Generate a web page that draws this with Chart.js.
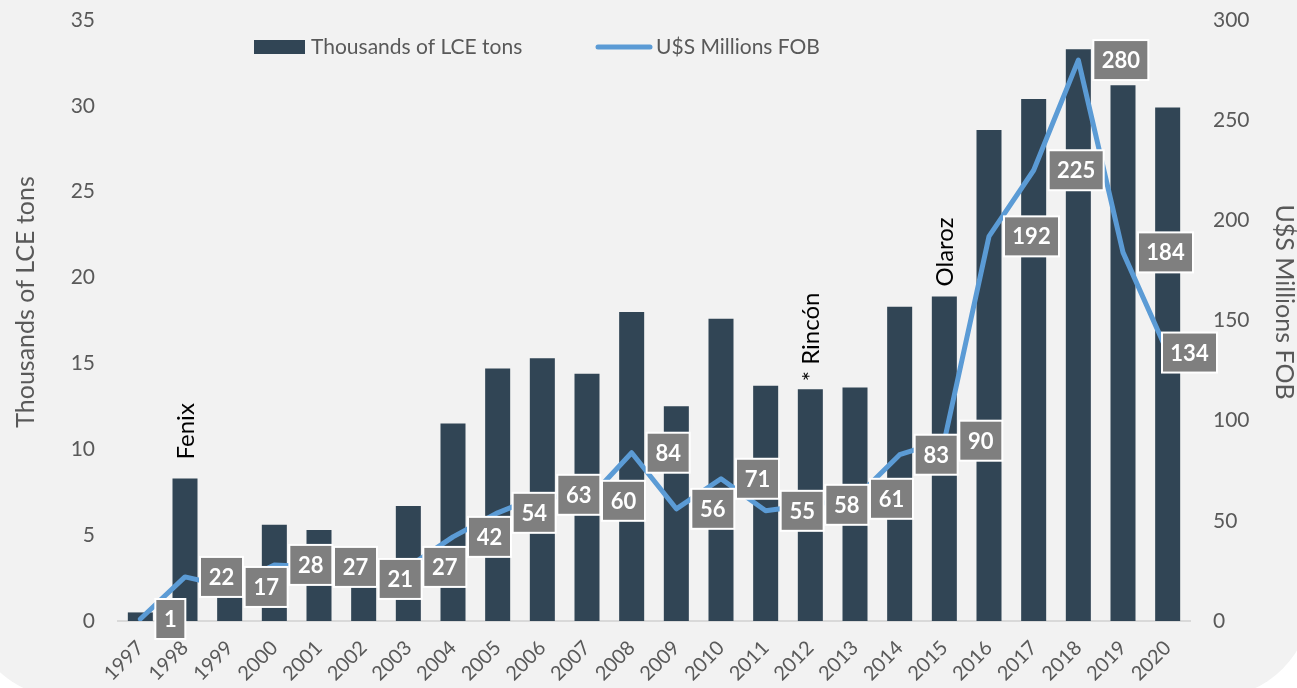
<!DOCTYPE html>
<html>
<head>
<meta charset="utf-8">
<script src="https://cdn.jsdelivr.net/npm/chart.js@4.4.1/dist/chart.umd.min.js"></script>
<style>
  html, body { margin: 0; padding: 0; background: #fff; overflow: hidden; }
  #bg {
    position: absolute; left: -33px; top: 0; width: 1345px; height: 698px;
    background: #f2f2f2; border-radius: 0 0 100px 100px;
  }
  #chart { position: absolute; left: 0; top: 0; }
</style>
</head>
<body>
<div id="bg"></div>
<canvas id="chart" width="1297" height="688"></canvas>
<script>
const years = ['1997', '1998', '1999', '2000', '2001', '2002', '2003', '2004', '2005', '2006', '2007', '2008',
               '2009', '2010', '2011', '2012', '2013', '2014', '2015', '2016', '2017', '2018', '2019', '2020'];
const lceTons = [0.5, 8.3, 2.5, 5.6, 5.3, 3.0, 6.7, 11.5, 14.7, 15.3, 14.4, 18.0,
                 12.5, 17.6, 13.7, 13.5, 13.6, 18.3, 18.9, 28.6, 30.4, 33.3, 31.2, 29.9];
const usdMillions = [1, 22, 17, 28, 27, 21, 27, 42, 54, 63, 60, 84,
                     56, 71, 55, 58, 61, 83, 90, 192, 225, 280, 184, 134];
const seriesNames = ['Thousands of LCE tons', 'U$S Millions FOB'];
const noteYears = ['1998', '2012', '2015'];
const noteTexts = ['Fenix', '* Rincón', 'Olaroz'];

const BAR = '#314555';
const LINE = '#5b9bd5';
const GREY = '#595959';
const noteGap = [19, 8, 10];

Chart.defaults.font.family = "Lato, 'Open Sans', sans-serif";
Chart.defaults.color = GREY;

// keep the y axes from pushing the plot down (tick padding gets added to top padding)
function fixY(width) {
  return s => {
    s.width = width;
    s.paddingTop = 4;
    s.paddingBottom = 4;
  };
}

const overlay = {
  id: 'overlay',
  afterDatasetsDraw(chart) {
    const ctx = chart.ctx;
    const xs = chart.scales.x, yl = chart.scales.y;
    const area = chart.chartArea;

    // project notes above the bars
    ctx.save();
    ctx.fillStyle = '#000';
    ctx.font = '24px Lato';
    ctx.textAlign = 'left';
    ctx.textBaseline = 'middle';
    noteYears.forEach((yr, k) => {
      const i = years.indexOf(yr);
      const x = xs.getPixelForValue(i);
      const y = yl.getPixelForValue(lceTons[i]) - noteGap[k];
      ctx.save();
      ctx.translate(x + 1, y);
      ctx.rotate(-Math.PI / 2);
      ctx.fillText(noteTexts[k], 0, 0);
      ctx.restore();
    });
    ctx.restore();

    // value boxes for the line
    const meta = chart.getDatasetMeta(1);
    ctx.save();
    ctx.font = 'bold 22px Lato';
    ctx.textAlign = 'center';
    ctx.textBaseline = 'middle';
    meta.data.forEach((pt, i) => {
      const txt = String(usdMillions[i]);
      const w = Math.round(ctx.measureText(txt).width + 17);
      const h = 40;
      let x0 = pt.x + 15;
      if (x0 + w > area.right + 27) x0 = area.right + 27 - w;
      const y0 = pt.y - h / 2;
      ctx.fillStyle = '#7f7f7f';
      ctx.fillRect(x0, y0, w, h);
      ctx.strokeStyle = '#fff';
      ctx.lineWidth = 2;
      ctx.strokeRect(x0, y0, w, h);
      ctx.fillStyle = '#fff';
      ctx.fillText(txt, x0 + w / 2, pt.y + 1);
    });
    ctx.restore();
  },
  afterDraw(chart) {
    const ctx = chart.ctx;
    ctx.save();
    // legend
    ctx.font = '21px Lato';
    ctx.textBaseline = 'middle';
    ctx.textAlign = 'left';
    ctx.fillStyle = BAR;
    ctx.fillRect(254, 40, 51, 14);
    ctx.fillStyle = GREY;
    ctx.fillText(seriesNames[0], 311, 47);
    ctx.strokeStyle = LINE;
    ctx.lineWidth = 5;
    ctx.lineCap = 'round';
    ctx.beginPath();
    ctx.moveTo(598, 47);
    ctx.lineTo(650, 47);
    ctx.stroke();
    ctx.fillText(seriesNames[1], 656, 47);

    // axis titles
    ctx.font = '25px Lato';
    ctx.textAlign = 'center';
    ctx.save();
    ctx.translate(26, 302);
    ctx.rotate(-Math.PI / 2);
    ctx.fillText(seriesNames[0], 0, 0);
    ctx.restore();
    ctx.save();
    ctx.translate(1284, 302);
    ctx.rotate(Math.PI / 2);
    ctx.fillText(seriesNames[1], 0, 0);
    ctx.restore();
    ctx.restore();
  }
};

(async () => {
  await Promise.all([
    document.fonts.load('21px Lato'),
    document.fonts.load('bold 22px Lato')
  ]);

  new Chart(document.getElementById('chart'), {
    type: 'bar',
    data: {
      labels: years,
      datasets: [{
        type: 'bar',
        label: seriesNames[0],
        data: lceTons,
        backgroundColor: BAR,
        yAxisID: 'y',
        barPercentage: 0.56,
        categoryPercentage: 1,
        order: 2
      }, {
        type: 'line',
        label: seriesNames[1],
        data: usdMillions,
        borderColor: LINE,
        borderWidth: 5,
        borderJoinStyle: 'round',
        borderCapStyle: 'round',
        pointRadius: 0,
        tension: 0,
        yAxisID: 'y1',
        order: 1
      }]
    },
    options: {
      responsive: false,
      animation: false,
      layout: { padding: { top: 20, left: 0, right: 0, bottom: 0 } },
      plugins: {
        legend: { display: false },
        tooltip: { enabled: false }
      },
      scales: {
        x: {
          grid: { display: false, drawTicks: false },
          border: { color: '#d9d9d9', width: 2 },
          ticks: { font: { size: 20 }, color: GREY, minRotation: 45, maxRotation: 45, padding: 15 },
          afterFit: s => { s.height = 67; }
        },
        y: {
          position: 'left',
          min: 0, max: 35,
          grid: { display: false, drawTicks: false },
          border: { display: false },
          ticks: { stepSize: 5, font: { size: 21 }, color: GREY, padding: 23 },
          afterFit: fixY(118)
        },
        y1: {
          position: 'right',
          min: 0, max: 300,
          grid: { display: false, drawTicks: false },
          border: { display: false },
          ticks: { stepSize: 50, font: { size: 21 }, color: GREY, padding: 23 },
          afterFit: fixY(107)
        }
      }
    },
    plugins: [overlay]
  });
})();
</script>
</body>
</html>
